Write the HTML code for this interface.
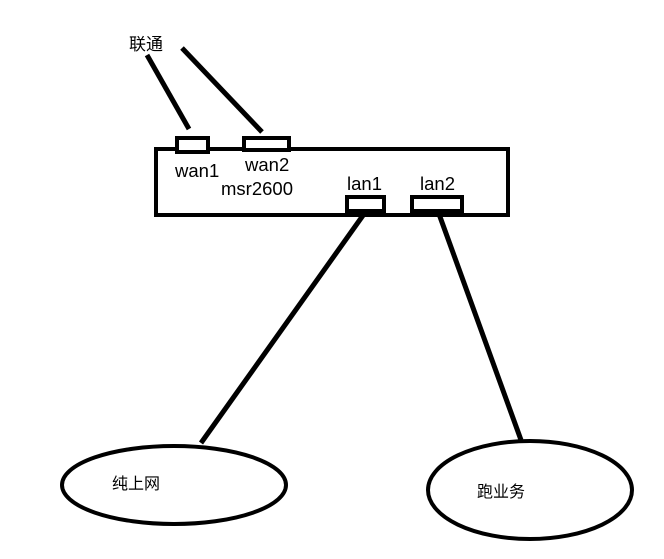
<!DOCTYPE html><html><head><style>body{margin:0;background:#fff}</style></head><body>
<svg width="664" height="559" xmlns="http://www.w3.org/2000/svg" style="display:block">
<g fill="none" stroke="#000" stroke-width="4">
<rect x="156" y="149" width="352" height="66"/>
<rect x="177" y="138" width="31" height="14" fill="#fff"/>
<rect x="244" y="138" width="45" height="12" fill="#fff"/>
<rect x="347" y="197" width="37" height="14" fill="#fff"/>
<rect x="412" y="197" width="50" height="14" fill="#fff"/>
<g stroke-width="5">
<line x1="147" y1="55" x2="189" y2="129"/>
<line x1="182" y1="48" x2="262" y2="132"/>
<line x1="364" y1="214" x2="201" y2="443"/>
<line x1="439" y1="214" x2="521" y2="440"/>
</g>
<ellipse cx="174" cy="485" rx="112" ry="39" fill="#fff"/>
<ellipse cx="530" cy="490" rx="102" ry="49" fill="#fff"/>
</g>
<g font-family="Liberation Sans, Noto Sans CJK SC, sans-serif" font-size="18.5" fill="#000">
<text x="129" y="50" font-size="17">联通</text>
<text x="175" y="177">wan1</text>
<text x="245" y="171">wan2</text>
<text x="221" y="195">msr2600</text>
<text x="347" y="190">lan1</text>
<text x="420" y="190">lan2</text>
<text x="112" y="489" font-size="16">纯上网</text>
<text x="477" y="497" font-size="16">跑业务</text>
</g>
</svg></body></html>
